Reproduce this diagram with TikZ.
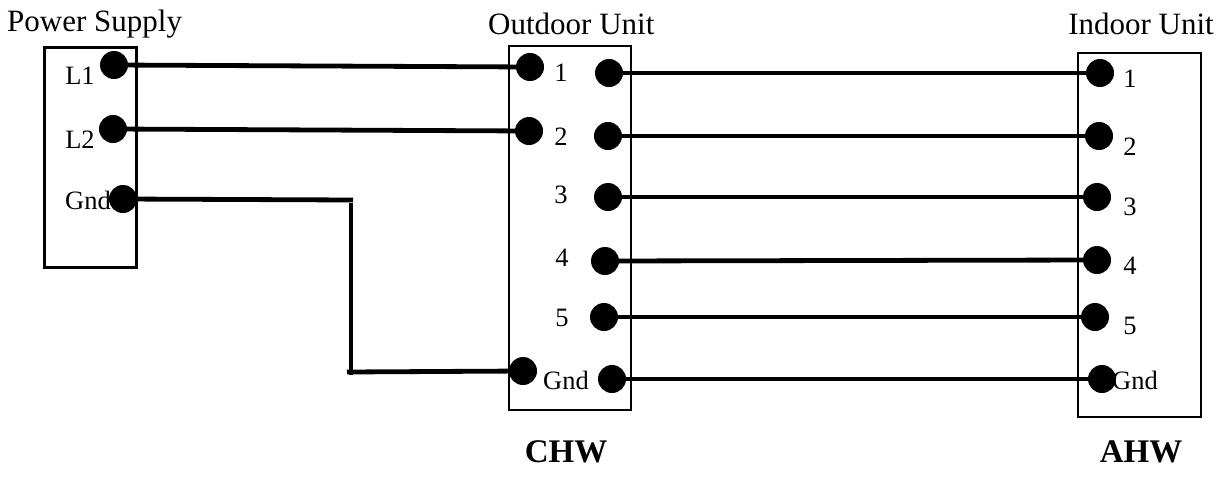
\documentclass[tikz,border=0pt]{standalone}
\usepackage{fontspec}
\setmainfont{Liberation Serif}
\begin{document}
\begin{tikzpicture}[x=1pt,y=-1pt,
  dot/.style={circle,fill=black,minimum size=28pt,inner sep=0pt},
  wire/.style={line width=4.8pt},
  thinbox/.style={draw,line width=1.2pt},
  thickbox/.style={draw,line width=3pt},
  title/.style={font=\fontsize{31}{34}\selectfont,inner sep=0pt},
  lbl/.style={font=\fontsize{26.5}{28}\selectfont,inner sep=0pt},
  unitname/.style={font=\fontsize{33}{36}\selectfont\bfseries,inner sep=0pt}]
\useasboundingbox (0,0) rectangle (1218,477);
% boxes
\draw[thickbox] (44,47) rectangle (136,267);
\draw[thinbox] (509,46) rectangle (631,410);
\draw[thinbox] (1078,53) rectangle (1201,417);
% titles
\node[title,anchor=west] (tps) at (7,24) {Power Supply};
\node[title,anchor=west] (tou) at (488,24) {Outdoor Unit};
\node[title,anchor=east] (tiu) at (1214,24) {Indoor Unit};
\node[unitname] (chw) at (566,452) {CHW};
\node[unitname] (ahw) at (1141,452) {AHW};
% power supply labels and dots
\node[lbl] (pl1t) at (80,76) {L1};
\node[lbl] (pl2t) at (80,140) {L2};
\node[lbl] (pgt) at (88,200) {Gnd};
\node[dot] (p1) at (114,65) {};
\node[dot] (p2) at (113,129) {};
\node[dot] (pg) at (123,199) {};
% outdoor unit
\node[dot] (oi1) at (530,67) {};
\node[dot] (oi2) at (529,131) {};
\node[dot] (oig) at (523,371) {};
\node[lbl] (ot1) at (561,73) {1};
\node[lbl] (ot2) at (561,137) {2};
\node[lbl] (ot3) at (561,195) {3};
\node[lbl] (ot4) at (562,258) {4};
\node[lbl] (ot5) at (562,318) {5};
\node[lbl] (otg) at (566,380) {Gnd};
\node[dot] (oo1) at (609,73) {};
\node[dot] (oo2) at (608,136) {};
\node[dot] (oo3) at (608,197) {};
\node[dot] (oo4) at (605,261) {};
\node[dot] (oo5) at (604,317) {};
\node[dot] (oog) at (612,379) {};
% indoor unit
\node[dot] (i1) at (1100,73) {};
\node[dot] (i2) at (1099,136) {};
\node[dot] (i3) at (1097,197) {};
\node[dot] (i4) at (1097,260) {};
\node[dot] (i5) at (1095,317) {};
\node[dot] (ig) at (1102,379) {};
\node[lbl] (it1) at (1130,79) {1};
\node[lbl] (it2) at (1130,147) {2};
\node[lbl] (it3) at (1130,207) {3};
\node[lbl] (it4) at (1130,266) {4};
\node[lbl] (it5) at (1130,326) {5};
\node[lbl] (itg) at (1135,380) {Gnd};
% wires
\draw[wire] (p1.center) -- (oi1.center);
\draw[wire] (p2.center) -- (oi2.center);
\coordinate (g1) at (353,200);
\coordinate (g2) at (351,203);
\coordinate (g3) at (351,375);
\coordinate (g4) at (347,372);
\draw[wire] (pg.center) -- (g1);
\draw[wire] (g2) -- (g3);
\draw[wire] (g4) -- (oig.center);
\draw[wire] (oo1.center) -- (i1.center);
\draw[wire] (oo2.center) -- (i2.center);
\draw[wire] (oo3.center) -- (i3.center);
\draw[wire] (oo4.center) -- (i4.center);
\draw[wire] (oo5.center) -- (i5.center);
\draw[wire] (oog.center) -- (ig.center);
\end{tikzpicture}
\end{document}
